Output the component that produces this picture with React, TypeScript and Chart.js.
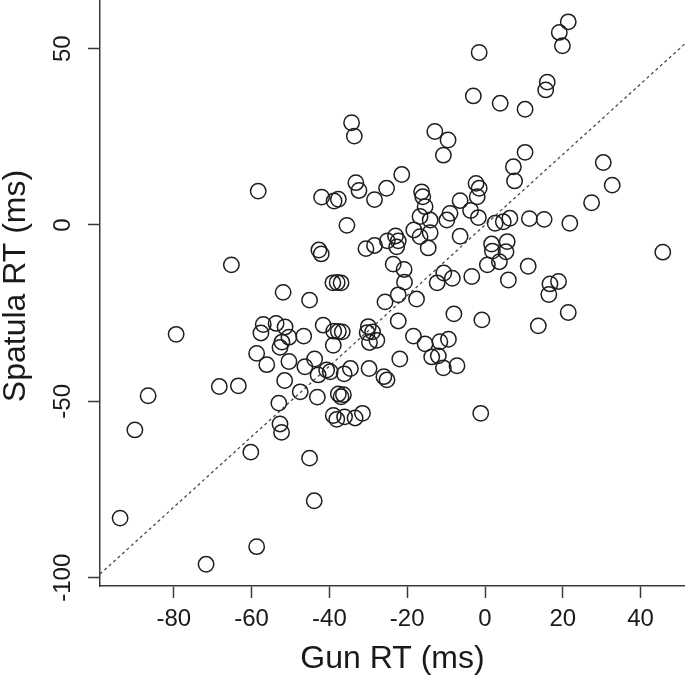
import React, { useEffect, useRef } from "react";
import { Chart, registerables } from "chart.js";

Chart.register(...registerables);

// Gun RT (x) and Spatula RT (y), in ms, one entry per point
const gunRT: number[] = [
  -93.8, -90.0, -86.6, -79.4, -71.7, -68.3, -63.4, -65.2, -58.3, -60.2, -58.7,
  -51.9, -45.1, -57.0, -57.6, -53.7, -51.4, -50.4, -52.2, -52.7, -58.7, -56.1,
  -50.4, -46.6, -46.3, -43.8, -42.9, -40.7, -39.8, -41.6, -51.5, -47.5, -43.1,
  -53.0, -52.7, -52.3, -45.1, -43.9,
  -38.9, -37.7, -36.7, -39.0, -30.0, -30.3, -28.9, -29.7, -27.8, -36.2, -34.6,
  -29.8, -26.0, -25.2, -37.7, -36.4, -37.0, -39.0, -38.1, -36.1, -33.4, -31.5,
  -39.1, -38.0, -37.0, -25.7, -22.3, -20.7, -22.3, -21.9, -18.4,
  -34.3, -33.6, -33.2, -32.4, -42.0, -38.8, -37.7, -28.4, -25.3, -21.4, -35.5,
  -42.7, -42.1, -30.6, -28.4, -25.1, -23.0, -22.3, -22.7, -18.3, -23.6, -20.8,
  -12.9, -9.5, -10.7, -16.3, -16.0, -2.3, -1.5, -2.0, -6.4, -15.4, -16.7, -14.1,
  -9.0, -9.8, -3.7, -1.7, -16.7, -14.1, -6.4, -14.6, 1.7, 1.9, 5.7, 5.4, 0.6,
  3.7, 11.1, -10.6, -8.4, -12.3, -3.4, 6.0, 16.7, 18.9, 16.4, 2.6, 4.7, 6.4,
  11.4, 15.2, 21.8, -17.6, -8.0, -0.8, 13.7, 21.4, -15.4, -11.6, -9.4, -13.7,
  -12.0, -10.7, -7.2, -1.1,
  21.4, 19.1, 19.9, -1.5, 16.0, 15.6, -3.0, 3.9, 10.3, 10.3, 7.3, 7.6, 30.4,
  32.7, 27.4, 45.7,
];

const spatulaRT: number[] = [
  -83.1, -58.1, -48.4, -31.0, -96.2, -45.8, -45.6, -11.3, 9.6, -64.4, -91.2,
  -19.1, -21.3, -28.2, -30.6, -27.9, -28.9, -31.8, -33.2, -34.7, -36.4, -39.6,
  -38.7, -31.5, -40.2, -38.0, -42.5, -41.1, -41.6, -28.4, -44.1, -47.3, -48.8,
  -50.5, -56.4, -58.8, -66.1, -78.2,
  -30.1, -30.2, -30.3, -34.1, -28.8, -30.5, -30.3, -33.3, -32.7, -42.2, -40.7,
  -40.7, -43.0, -43.9, -47.9, -48.1, -48.7, -54.0, -55.1, -54.4, -54.7, -53.4,
  -16.4, -16.3, -16.4, -21.8, -19.8, -16.2, -27.2, -38.0, -31.5,
  29.0, 25.2, 12.0, 9.8, 7.9, 6.8, 7.3, 7.2, 10.4, 14.3, -0.1,
  -7.1, -8.2, -6.7, -5.8, -4.5, -3.1, -4.5, -6.2, -1.4, -11.1, -12.6,
  26.5, 24.1, 19.8, 9.4, 8.0, 11.8, 10.4, 8.0, 6.9, 5.2, 2.4, 1.4,
  3.3, 1.4, 4.1, 2.1, -3.3, -2.2, -3.2, -6.5, -5.4, -7.4, -4.7, -7.6, -11.3,
  -10.4, -11.7, -13.6, -15.1, -16.4, -14.6, -15.6, -16.7, -16.0, -19.7, 0.5, 0.9, 1.9,
  1.8, 1.6, 0.5, -21.0, -25.2, -26.9, -28.6, -24.8, -33.7, -33.1, -32.4, -37.4,
  -37.1, -40.5, -39.9, -53.4,
  57.6, 54.6, 50.8, 48.9, 40.5, 38.3, 36.6, 34.5, 32.8, 20.6, 16.5, 12.5, 17.7,
  11.3, 6.3, -7.7,
];

const xTicks: number[] = [-80, -60, -40, -20, 0, 20, 40];
const yTicks: number[] = [-100, -50, 0, 50];
const xRange: number[] = [-98.97, 51.41];
const yRange: number[] = [-102.35, 67.76];
const xLabel = "Gun RT (ms)";
const yLabel = "Spatula RT (ms)";

const FONT = "'Liberation Sans', Arial, Helvetica, sans-serif";
const AXIS = "#3a3a3a";
const TEXT = "#1a1a1a";
const TOP_OVERHANG = 14; // plot region extends above the visible page

const zeroPad = (s: any) => {
  s.paddingTop = 0;
  s.paddingBottom = 0;
  s.paddingLeft = 0;
  s.paddingRight = 0;
};

export default function App() {
  const ref = useRef<HTMLCanvasElement | null>(null);

  useEffect(() => {
    if (!ref.current) return;
    const points = gunRT.map((x, i) => ({ x, y: spatulaRT[i] }));
    const chart = new Chart(ref.current, {
      type: "scatter",
      data: {
        datasets: [
          {
            type: "scatter",
            data: points,
            pointStyle: "circle",
            pointRadius: 7.7,
            pointBorderWidth: 1.5,
            pointBorderColor: "#1e1e1e",
            pointBackgroundColor: "rgba(0,0,0,0)",
            pointHoverRadius: 7.7,
          },
          {
            type: "line",
            data: [
              { x: xRange[0], y: xRange[0] },
              { x: xRange[1], y: xRange[1] },
            ],
            borderColor: "#4a4a4a",
            borderWidth: 1.3,
            borderDash: [3, 3],
            pointRadius: 0,
            fill: false,
          } as any,
        ],
      },
      options: {
        responsive: false,
        animation: false,
        devicePixelRatio: 1,
        layout: { padding: 0, autoPadding: false },
        plugins: {
          legend: { display: false },
          tooltip: { enabled: false },
        },
        scales: {
          x: {
            type: "linear",
            min: xRange[0],
            max: xRange[1],
            afterBuildTicks: (s: any) => {
              s.ticks = xTicks.map((v) => ({ value: v }));
            },
            afterFit: (s: any) => {
              s.height = 90;
              zeroPad(s);
            },
            grid: {
              display: true,
              drawOnChartArea: false,
              drawTicks: true,
              tickLength: 12,
              tickWidth: 1.5,
              tickColor: AXIS,
            },
            border: { display: true, color: AXIS, width: 1.5 },
            ticks: {
              autoSkip: false,
              maxRotation: 0,
              minRotation: 0,
              padding: 7,
              color: TEXT,
              font: { family: FONT, size: 24 },
              callback: (v: any) => String(v),
            },
            title: {
              display: true,
              text: xLabel,
              color: TEXT,
              font: { family: FONT, size: 32, lineHeight: 1 },
              padding: { top: 0, bottom: 1 },
            },
          },
          y: {
            type: "linear",
            min: yRange[0],
            max: yRange[1],
            afterBuildTicks: (s: any) => {
              s.ticks = yTicks.map((v) => ({ value: v }));
            },
            afterFit: (s: any) => {
              s.width = 100;
              zeroPad(s);
            },
            grid: {
              display: true,
              drawOnChartArea: false,
              drawTicks: true,
              tickLength: 12,
              tickWidth: 1.5,
              tickColor: AXIS,
            },
            border: { display: true, color: AXIS, width: 1.5 },
            ticks: {
              autoSkip: false,
              minRotation: 90,
              maxRotation: 90,
              crossAlign: "center",
              padding: 1,
              color: TEXT,
              font: { family: FONT, size: 24 },
              callback: (v: any) => String(v),
            },
            title: {
              display: true,
              text: yLabel,
              color: TEXT,
              font: { family: FONT, size: 32, lineHeight: 1 },
              padding: { top: 0, bottom: 0 },
            },
          },
        },
      },
    });
    return () => chart.destroy();
  }, []);

  return (
    <div style={{ position: "absolute", left: 0, top: 0, width: 685, height: 676, overflow: "hidden", background: "#fff" }}>
      <canvas
        ref={ref}
        width={685}
        height={676 + TOP_OVERHANG}
        style={{ display: "block", position: "absolute", left: 0, top: -TOP_OVERHANG }}
      />
    </div>
  );
}
